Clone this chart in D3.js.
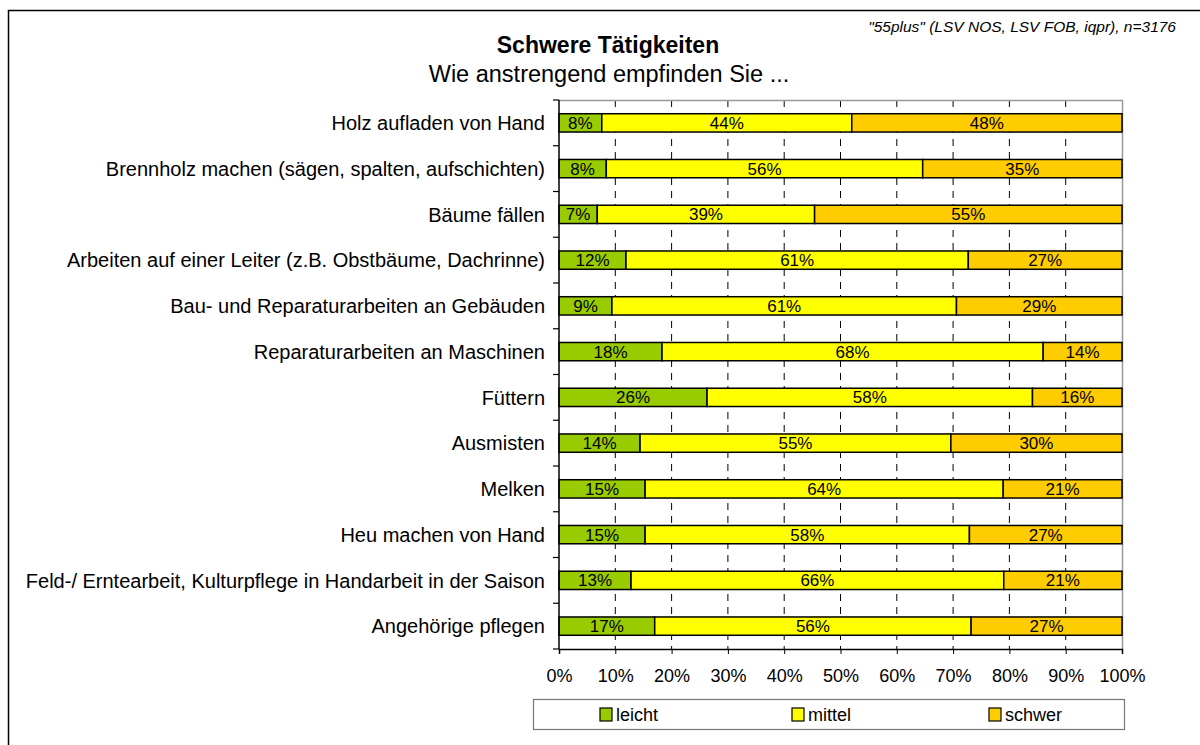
<!DOCTYPE html>
<html><head><meta charset="utf-8">
<script src="https://cdn.jsdelivr.net/npm/d3@7"></script>
<style>body{margin:0;background:#fff;} svg{display:block;font-family:"Liberation Sans",Arial,sans-serif;}</style>
</head><body>
<svg id="c" width="1200" height="745"></svg>
<script>
const categories = [
  "Holz aufladen von Hand",
  "Brennholz machen (sägen, spalten, aufschichten)",
  "Bäume fällen",
  "Arbeiten auf einer Leiter (z.B. Obstbäume, Dachrinne)",
  "Bau- und Reparaturarbeiten an Gebäuden",
  "Reparaturarbeiten an Maschinen",
  "Füttern",
  "Ausmisten",
  "Melken",
  "Heu machen von Hand",
  "Feld-/ Erntearbeit, Kulturpflege in Handarbeit in der Saison",
  "Angehörige pflegen"
];
const seriesNames = ["leicht", "mittel", "schwer"];
const leicht = [7.6, 8.4, 6.8, 11.9, 9.4, 18.3, 26.3, 14.4, 15.3, 15.3, 12.8, 17.0];
const mittel = [44.4, 56.2, 38.6, 60.8, 61.2, 67.7, 57.8, 55.2, 63.6, 57.6, 66.2, 56.2];
const schwer = [48.0, 35.4, 54.6, 27.3, 29.4, 14.0, 15.9, 30.4, 21.1, 27.1, 21.0, 26.8];
const xTicks = [0, 10, 20, 30, 40, 50, 60, 70, 80, 90, 100];
const colors = ["#99CC00", "#FFFF00", "#FFCC00"];
const title = "Schwere Tätigkeiten";
const subtitle = "Wie anstrengend empfinden Sie ...";
const source = "\"55plus\" (LSV NOS, LSV FOB, iqpr), n=3176";

const svg = d3.select("#c");
// outer frame
svg.append("rect").attr("x", 8.5).attr("y", 10.5).attr("width", 1300).attr("height", 800)
  .attr("fill", "none").attr("stroke", "#000").attr("stroke-width", 1.5);

const x = d3.scaleLinear().domain([0, 100]).range([559, 1122]);
const y = d3.scaleBand().domain(categories).range([100, 649]).paddingInner(0.6).paddingOuter(0.3);

const table = categories.map((c, i) => ({cat: c, leicht: leicht[i], mittel: mittel[i], schwer: schwer[i]}));
const stack = d3.stack().keys(seriesNames)(table);

// gridlines
svg.append("g").selectAll("line").data(xTicks.slice(1, -1)).join("line")
  .attr("x1", d => x(d)).attr("x2", d => x(d)).attr("y1", 100).attr("y2", 649)
  .attr("stroke", "#000").attr("stroke-width", 1).attr("stroke-dasharray", "7,6");

// plot border top/right
svg.append("path").attr("d", `M${x(0)},100.5H${x(100)+0.5}V649`)
  .attr("fill", "none").attr("stroke", "#999").attr("stroke-width", 1.5);

// bars
const g = svg.append("g");
stack.forEach((s, si) => {
  g.append("g").selectAll("rect").data(s).join("rect")
    .attr("x", d => x(d[0])).attr("width", d => x(d[1]) - x(d[0]))
    .attr("y", d => y(d.data.cat)).attr("height", y.bandwidth())
    .attr("fill", colors[si]).attr("stroke", "#000").attr("stroke-width", 1.5);
  g.append("g").selectAll("text").data(s).join("text")
    .attr("x", d => (x(d[0]) + x(d[1])) / 2).attr("y", d => y(d.data.cat) + y.bandwidth() / 2)
    .attr("dy", "0.36em").attr("text-anchor", "middle").attr("font-size", 17)
    .text(d => Math.round(d[1] - d[0]) + "%");
});

// y axis
const yAxisG = svg.append("g").attr("transform", `translate(${x(0)},0)`);
yAxisG.append("line").attr("x1", 0).attr("x2", 0).attr("y1", 100).attr("y2", 649).attr("stroke", "#000").attr("stroke-width", 1.5);
const bounds = d3.range(categories.length + 1).map(i => 100 + (649 - 100) * i / categories.length);
yAxisG.selectAll("line.t").data(bounds).join("line").attr("class", "t")
  .attr("x1", -6).attr("x2", 0).attr("y1", d => d).attr("y2", d => d).attr("stroke", "#000").attr("stroke-width", 1.2);
yAxisG.selectAll("text").data(categories).join("text")
  .attr("x", -14).attr("y", d => y(d) + y.bandwidth() / 2).attr("dy", "0.36em")
  .attr("text-anchor", "end").attr("font-size", 20).text(d => d);

// x axis
const xAxis = d3.axisBottom(x).tickValues(xTicks).tickFormat(d => d + "%").tickSize(5).tickPadding(15);
const xg = svg.append("g").attr("transform", "translate(0,649)").call(xAxis);
xg.select(".domain").attr("stroke-width", 1.5);
xg.selectAll("text").attr("font-size", 18).attr("font-family", "Liberation Sans, Arial, sans-serif").attr("fill", "#000");

// titles
svg.append("text").attr("x", 608).attr("y", 53).attr("text-anchor", "middle").attr("font-size", 23).attr("font-weight", "bold").text(title);
svg.append("text").attr("x", 609).attr("y", 82).attr("text-anchor", "middle").attr("font-size", 23.5).text(subtitle);
svg.append("text").attr("x", 1176).attr("y", 32).attr("text-anchor", "end").attr("font-size", 15.5).attr("font-style", "italic").text(source);

// legend
svg.append("rect").attr("x", 533.5).attr("y", 699.5).attr("width", 591).attr("height", 30).attr("fill", "#fff").attr("stroke", "#777").attr("stroke-width", 1.2);
const legX = [600, 792, 989];
const lg = svg.append("g").selectAll("g").data(seriesNames).join("g").attr("transform", (d, i) => `translate(${legX[i]},708)`);
lg.append("rect").attr("width", 12).attr("height", 13).attr("fill", (d, i) => colors[i]).attr("stroke", "#000").attr("stroke-width", 1.2);
lg.append("text").attr("x", 16).attr("y", 7).attr("dy", "0.36em").attr("font-size", 18).text(d => d);
</script>
</body></html>
